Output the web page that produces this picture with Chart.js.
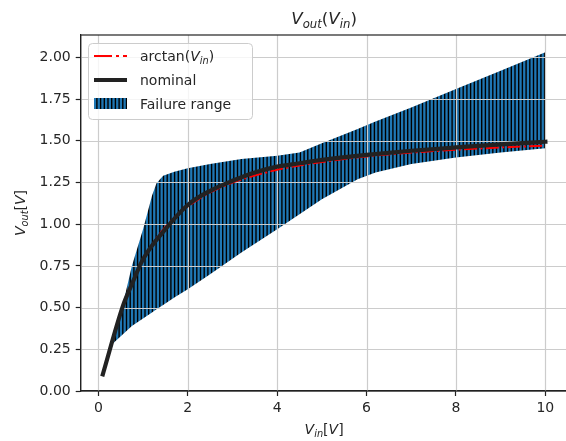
<!DOCTYPE html>
<html>
<head>
<meta charset="utf-8">
<script src="https://cdn.jsdelivr.net/npm/chart.js@4.4.1/dist/chart.umd.min.js"></script>
<style>
    html, body { margin: 0; padding: 0; background: #fff; overflow: hidden; }
    #wrap { position: relative; width: 580px; height: 441px; }
</style>
</head>
<body>
<div id="wrap"><canvas id="chart" width="580" height="441"></canvas></div>
<script>
// Values

// arctan(V_in) reference curve
const arctanX = [0.1, 0.25, 0.35, 0.5, 0.75, 1, 1.25, 1.5, 1.75, 2, 2.5, 3, 3.5, 4, 4.5, 5, 6, 7, 8, 9, 10];
const arctanY = [0.10, 0.245, 0.337, 0.464, 0.644, 0.785, 0.896, 0.983, 1.052, 1.107, 1.190, 1.249, 1.292, 1.326, 1.352, 1.373, 1.406, 1.429, 1.446, 1.460, 1.471];

// nominal curve
const nominalX = [0.1, 0.55, 0.75, 1, 1.5, 2, 2.5, 3, 3.5, 4, 4.5, 5, 6, 7, 8, 9, 10];
const nominalY = [0.10, 0.51, 0.64, 0.79, 0.97, 1.115, 1.20, 1.26, 1.31, 1.345, 1.365, 1.385, 1.415, 1.44, 1.46, 1.478, 1.494];

// failure range (band between lower and upper)
const failX = [0.35, 0.55, 0.75, 1.0, 1.2, 1.3, 1.45, 1.7, 2, 2.5, 3.2, 4, 4.5, 5, 5.8, 6.2, 7, 8, 9, 10];
const failLower = [0.29, 0.34, 0.39, 0.435, 0.47, 0.49, 0.515, 0.56, 0.61, 0.70, 0.83, 0.97, 1.06, 1.15, 1.27, 1.31, 1.36, 1.40, 1.43, 1.455];
const failUpper = [0.32, 0.52, 0.75, 0.97, 1.17, 1.245, 1.29, 1.315, 1.335, 1.36, 1.39, 1.41, 1.43, 1.485, 1.57, 1.615, 1.70, 1.81, 1.92, 2.03];

// axis ticks
const xTicks = [0, 2, 4, 6, 8, 10];
const yTicks = [0, 0.25, 0.5, 0.75, 1.0, 1.25, 1.5, 1.75, 2.0];

const TEXT = '#262626';
const FONT = '"DejaVu Sans", sans-serif';
const GRID = '#cccccc';

const toPoints = (xs, ys) => xs.map((x, i) => ({ x: x, y: ys[i] }));

// vertical hatch "|" over the blue face colour
function makeHatch() {
    const c = document.createElement('canvas');
    c.width = 37;
    c.height = 8;
    const g = c.getContext('2d');
    g.fillStyle = '#1f77b4';
    g.fillRect(0, 0, c.width, c.height);
    g.strokeStyle = '#000';
    g.lineWidth = 1.4;
    for (let i = 0; i < 10; i++) {
        const x = i * 3.7 + 0.7;
        g.beginPath();
        g.moveTo(x, 0);
        g.lineTo(x, c.height);
        g.stroke();
    }
    return g.createPattern(c, 'repeat');
}

// text with italic math letters and subscripts, like mathtext
function drawMath(ctx, parts, x, y, size, align) {
    const fontFor = p => (p.it ? 'italic ' : '') + (p.sub ? size * 0.7 : size) + 'px ' + FONT;
    let total = 0;
    const widths = parts.map(p => {
        ctx.font = fontFor(p);
        const w = ctx.measureText(p.t).width;
        total += w;
        return w;
    });
    let cx = align === 'center' ? x - total / 2 : x;
    ctx.textAlign = 'left';
    ctx.textBaseline = 'alphabetic';
    parts.forEach((p, i) => {
        ctx.font = fontFor(p);
        ctx.fillText(p.t, cx, y + (p.sub ? size * 0.22 : 0));
        cx += widths[i];
    });
}

const hatch = makeHatch();

// band + grid: drawn before the lines, grid on top of the band (matplotlib order)
const bandAndGrid = {
    id: 'bandAndGrid',
    beforeDatasetsDraw(chart) {
        const ctx = chart.ctx;
        const a = chart.chartArea;
        const xs = chart.scales.x, ys = chart.scales.y;
        ctx.save();
        ctx.beginPath();
        ctx.rect(a.left, a.top, a.right - a.left, a.bottom - a.top);
        ctx.clip();

        ctx.beginPath();
        failX.forEach((x, i) => {
            const px = xs.getPixelForValue(x), py = ys.getPixelForValue(failUpper[i]);
            if (i === 0) ctx.moveTo(px, py); else ctx.lineTo(px, py);
        });
        for (let i = failX.length - 1; i >= 0; i--) {
            ctx.lineTo(xs.getPixelForValue(failX[i]), ys.getPixelForValue(failLower[i]));
        }
        ctx.closePath();
        ctx.fillStyle = hatch;
        ctx.fill();

        ctx.strokeStyle = GRID;
        ctx.lineWidth = 1.2;
        xTicks.forEach(v => {
            const px = Math.round(xs.getPixelForValue(v)) + 0.5;
            ctx.beginPath();
            ctx.moveTo(px, a.top);
            ctx.lineTo(px, a.bottom);
            ctx.stroke();
        });
        yTicks.forEach(v => {
            const py = Math.round(ys.getPixelForValue(v)) + 0.5;
            ctx.beginPath();
            ctx.moveTo(a.left, py);
            ctx.lineTo(a.right, py);
            ctx.stroke();
        });
        ctx.restore();
    }
};

const decor = {
    id: 'decor',
    afterDraw(chart) {
        const ctx = chart.ctx;
        const a = chart.chartArea;
        ctx.save();

        // frame
        ctx.strokeStyle = '#222';
        ctx.lineWidth = 1.2;
        ctx.strokeRect(a.left, a.top, a.right - a.left, a.bottom - a.top);

        ctx.fillStyle = TEXT;
        const cx = (a.left + a.right) / 2;

        // title
        drawMath(ctx, [
            { t: 'V', it: true }, { t: 'out', it: true, sub: true },
            { t: '(' }, { t: 'V', it: true }, { t: 'in', it: true, sub: true }, { t: ')' }
        ], cx, 24, 16.7, 'center');

        // x label
        drawMath(ctx, [
            { t: 'V', it: true }, { t: 'in', it: true, sub: true },
            { t: '[' }, { t: 'V', it: true }, { t: ']' }
        ], cx, 434, 14, 'center');

        // y label
        ctx.save();
        ctx.translate(25, (a.top + a.bottom) / 2);
        ctx.rotate(-Math.PI / 2);
        drawMath(ctx, [
            { t: 'V', it: true }, { t: 'out', it: true, sub: true },
            { t: '[' }, { t: 'V', it: true }, { t: ']' }
        ], 0, 0, 14, 'center');
        ctx.restore();

        // legend
        const lx = 88.5, ly = 43.5, lw = 164, lh = 76;
        ctx.beginPath();
        ctx.roundRect(lx, ly, lw, lh, 4);
        ctx.fillStyle = 'rgba(255,255,255,0.8)';
        ctx.fill();
        ctx.strokeStyle = '#cccccc';
        ctx.lineWidth = 1;
        ctx.stroke();

        const hx0 = 94, hx1 = 127, tx = 140;
        const rows = [56, 80, 103.5];

        ctx.strokeStyle = '#ff0000';
        ctx.lineWidth = 2;
        ctx.setLineDash([18, 4, 3, 4]);
        ctx.beginPath();
        ctx.moveTo(hx0, rows[0]);
        ctx.lineTo(hx1, rows[0]);
        ctx.stroke();
        ctx.setLineDash([]);

        ctx.strokeStyle = '#222222';
        ctx.lineWidth = 4.2;
        ctx.beginPath();
        ctx.moveTo(hx0, rows[1]);
        ctx.lineTo(hx1, rows[1]);
        ctx.stroke();

        ctx.fillStyle = hatch;
        ctx.fillRect(hx0, rows[2] - 5.5, hx1 - hx0, 11);

        ctx.fillStyle = TEXT;
        drawMath(ctx, [
            { t: 'arctan(' }, { t: 'V', it: true }, { t: 'in', it: true, sub: true }, { t: ')' }
        ], tx, rows[0] + 5, 14, 'left');
        drawMath(ctx, [{ t: 'nominal' }], tx, rows[1] + 5, 14, 'left');
        drawMath(ctx, [{ t: 'Failure range' }], tx, rows[2] + 5, 14, 'left');

        ctx.restore();
    }
};

const axisGrid = {
    drawOnChartArea: false,
    tickColor: '#222',
    tickLength: 5,
    tickWidth: 1.2
};

new Chart(document.getElementById('chart'), {
    type: 'line',
    data: {
        datasets: [{
            label: 'arctan',
            data: toPoints(arctanX, arctanY),
            borderColor: '#ff0000',
            borderWidth: 2,
            borderDash: [13, 3.3, 2.1, 3.3],
            pointRadius: 0,
            cubicInterpolationMode: 'monotone',
            fill: false,
            order: 2
        }, {
            label: 'nominal',
            data: toPoints(nominalX, nominalY),
            borderColor: '#222222',
            borderWidth: 4.2,
            borderCapStyle: 'square',
            borderJoinStyle: 'round',
            pointRadius: 0,
            cubicInterpolationMode: 'monotone',
            fill: false,
            order: 1
        }]
    },
    options: {
        responsive: false,
        animation: false,
        events: [],
        layout: { padding: { top: 35, right: 12.5, bottom: 0, left: 0 } },
        scales: {
            x: {
                type: 'linear',
                min: -0.395,
                max: 10.495,
                grid: axisGrid,
                border: { color: '#222', width: 1.2 },
                afterBuildTicks: s => { s.ticks = xTicks.map(v => ({ value: v })); },
                afterFit: s => { s.height = 50; },
                ticks: {
                    color: TEXT,
                    padding: 4,
                    maxRotation: 0,
                    font: { family: FONT, size: 14 },
                    callback: v => String(v)
                }
            },
            y: {
                min: 0,
                max: 2.134,
                grid: axisGrid,
                border: { color: '#222', width: 1.2 },
                afterBuildTicks: s => { s.ticks = yTicks.map(v => ({ value: v })); },
                afterFit: s => { s.width = 80.7; },
                ticks: {
                    color: TEXT,
                    padding: 5,
                    font: { family: FONT, size: 14 },
                    callback: v => v.toFixed(2)
                }
            }
        },
        plugins: {
            legend: { display: false },
            title: { display: false },
            tooltip: { enabled: false }
        }
    },
    plugins: [bandAndGrid, decor]
});
</script>
</body>
</html>
